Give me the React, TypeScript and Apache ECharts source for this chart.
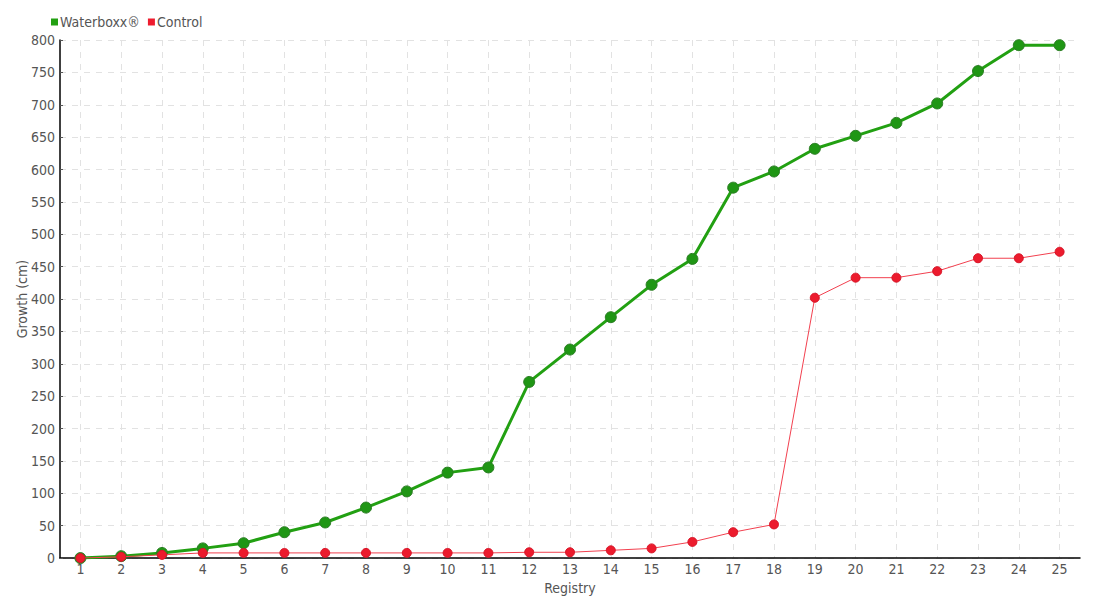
import React, { useEffect, useRef } from "react";
import * as echarts from "echarts";

const categories = ["1","2","3","4","5","6","7","8","9","10","11","12","13","14","15","16","17","18","19","20","21","22","23","24","25"];
const waterboxx = [0, 3, 8, 15, 23, 40, 55, 78, 103, 132, 140, 272, 322, 372, 422, 462, 572, 597, 632, 652, 672, 702, 752, 792, 792];
const control = [0, 2, 5, 8, 8, 8, 8, 8, 8, 8, 8, 9, 9, 12, 15, 25, 40, 52, 402, 433, 433, 443, 463, 463, 473];

const FONT = "'DejaVu Sans Condensed', 'Liberation Sans Narrow', sans-serif";
const TEXT = "#555555";

export default function App() {
  const ref = useRef<HTMLDivElement>(null);
  useEffect(() => {
    if (!ref.current) return;
    const chart = echarts.init(ref.current, undefined, { renderer: "svg" });
    chart.setOption({
      animation: false,
      textStyle: { fontFamily: FONT, color: TEXT },
      legend: {
        left: 46,
        top: 10,
        itemWidth: 7,
        itemHeight: 7,
        itemGap: 8,
        icon: "rect",
        textStyle: { fontFamily: FONT, fontSize: 14, color: TEXT, padding: [0, 0, 0, -3] },
        data: [
          { name: "Waterboxx®", itemStyle: { color: "#22a012", borderWidth: 0 } },
          { name: "Control", itemStyle: { color: "#ee1c2e", borderWidth: 0 } },
        ],
      },
      grid: { left: 60, right: 20, top: 40, bottom: 40 },
      xAxis: {
        type: "category",
        data: categories,
        boundaryGap: true,
        name: "Registry",
        nameLocation: "middle",
        nameGap: 15,
        nameTextStyle: { fontFamily: FONT, fontSize: 14, color: TEXT },
        axisLine: { lineStyle: { color: "#000", width: 1.5 } },
        axisTick: { alignWithLabel: true, length: 3, lineStyle: { color: "#555" } },
        axisLabel: { fontFamily: FONT, fontSize: 14, color: TEXT, margin: 4, interval: 0 },
        splitLine: {
          show: true,
          alignWithLabel: true,
          lineStyle: { color: "#e2e2e2", type: [6, 6], width: 1 },
        },
      },
      yAxis: {
        type: "value",
        min: 0,
        max: 800,
        interval: 50,
        name: "Growth (cm)",
        nameLocation: "middle",
        nameGap: 31,
        nameMoveOverlap: false,
        nameTextStyle: { fontFamily: FONT, fontSize: 14, color: TEXT },
        axisLine: { show: true, lineStyle: { color: "#000", width: 1.5 } },
        axisTick: { show: true, inside: true, length: 3, lineStyle: { color: "#555" } },
        axisLabel: { fontFamily: FONT, fontSize: 14, color: TEXT, margin: 5 },
        splitLine: { show: true, lineStyle: { color: "#e2e2e2", type: [6, 6], width: 1 } },
      },
      series: [
        {
          name: "Waterboxx®",
          type: "line",
          data: waterboxx,
          symbol: "circle",
          symbolSize: 11,
          lineStyle: { color: "#22a012", width: 3 },
          itemStyle: { color: "#1f9614", borderColor: "#2b7d24", borderWidth: 1 },
          z: 2,
        },
        {
          name: "Control",
          type: "line",
          data: control,
          symbol: "circle",
          symbolSize: 9,
          lineStyle: { color: "#f2404f", width: 1 },
          itemStyle: { color: "#ec1b2d", borderColor: "#d81427", borderWidth: 1 },
          z: 3,
        },
      ],
    });
    return () => chart.dispose();
  }, []);
  return (
    <div
      ref={ref}
      style={{ position: "fixed", left: 0, top: 0, width: 1100, height: 600, background: "#fff" }}
    />
  );
}
